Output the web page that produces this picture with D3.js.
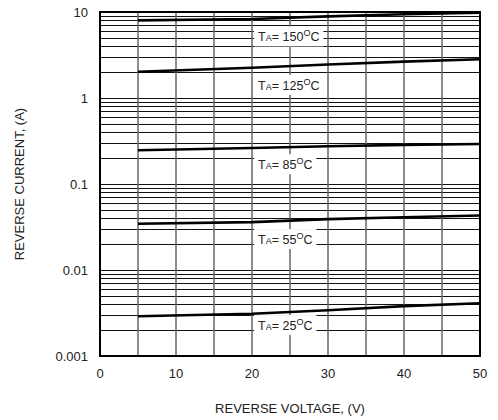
<!DOCTYPE html>
<html lang="en">
<head>
<meta charset="utf-8">
<title>Reverse Current vs Reverse Voltage</title>
<script src="https://cdn.jsdelivr.net/npm/d3@7"></script>
<style>
  body { margin: 0; background: #fff; }
  text { font-family: "Liberation Sans", Arial, sans-serif; fill: #222; }
</style>
</head>
<body>
<script>
// data
var voltages = [5, 20, 30, 40, 50];
var cur150 = [8.0, 8.3, 8.9, 9.4, 9.8];
var cur125 = [2.02, 2.25, 2.45, 2.65, 2.82];
var cur85 = [0.247, 0.262, 0.275, 0.285, 0.292];
var cur55 = [0.0345, 0.036, 0.039, 0.041, 0.043];
var cur25 = [0.0029, 0.0031, 0.0034, 0.0038, 0.0041];
var seriesNames = ["150", "125", "85", "55", "25"];
var labelCurrents = [5.2, 1.42, 0.17, 0.0229, 0.00229];
var xTicks = [0, 10, 20, 30, 40, 50];
var yTicks = [0.001, 0.01, 0.1, 1, 10];
var yTickLabels = ["0.001", "0.01", "0.1", "1", "10"];

var w = 498, h = 420;
var margin = { top: 12, right: 18, bottom: 64, left: 100 };

var svg = d3.select("body").append("svg")
  .attr("width", w).attr("height", h);

var x = d3.scaleLinear().domain([0, 50]).range([margin.left, w - margin.right]);
var y = d3.scaleLog().domain([0.001, 10]).range([h - margin.bottom, margin.top]);

// horizontal log grid
var minor = [];
for (var d = 0.001; d < 10; d *= 10) {
  for (var k = 1; k <= 9; k++) minor.push(+(d * k).toPrecision(3));
}
svg.append("g").selectAll("line").data(minor).enter().append("line")
  .attr("x1", x(0)).attr("x2", x(50))
  .attr("y1", function(v) { return Math.round(y(v)) + 0.5; })
  .attr("y2", function(v) { return Math.round(y(v)) + 0.5; })
  .attr("stroke", "#111").attr("stroke-width", 1);

// vertical grid every 5 V
svg.append("g").selectAll("line").data(d3.range(5, 50, 5)).enter().append("line")
  .attr("x1", function(v) { return x(v); }).attr("x2", function(v) { return x(v); })
  .attr("y1", y(10)).attr("y2", y(0.001))
  .attr("stroke", "#666").attr("stroke-width", 1.5);

// curves
var allSeries = [cur150, cur125, cur85, cur55, cur25];
var line = d3.line()
  .x(function(d, i) { return x(voltages[i]); })
  .y(function(d) { return y(d); });
svg.append("g").selectAll("path").data(allSeries).enter().append("path")
  .attr("d", line).attr("fill", "none")
  .attr("stroke", "#000").attr("stroke-width", 2.6);

// labels with white boxes
var lab = svg.append("g").selectAll("g").data(seriesNames).enter().append("g");
lab.each(function(name, i) {
  var g = d3.select(this);
  var t = g.append("text")
    .attr("x", x(20.8)).attr("y", y(labelCurrents[i]) + 5)
    .attr("font-size", 12.5);
  t.append("tspan").text("T");
  t.append("tspan").attr("font-size", 9).text("A");
  t.append("tspan").text("= " + name);
  t.append("tspan").attr("font-size", 9).attr("dy", -5).text("O");
  t.append("tspan").attr("dy", 5).text("C");
  var bb = t.node().getBBox();
  g.insert("rect", "text")
    .attr("x", bb.x - 4).attr("y", bb.y - 2)
    .attr("width", bb.width + 8).attr("height", bb.height + 4)
    .attr("fill", "#fff");
});

// frame
svg.append("rect")
  .attr("x", x(0)).attr("y", y(10))
  .attr("width", x(50) - x(0)).attr("height", y(0.001) - y(10))
  .attr("fill", "none").attr("stroke", "#000").attr("stroke-width", 2);

// tick labels
svg.append("g").selectAll("text").data(yTicks).enter().append("text")
  .attr("x", x(0) - 12).attr("y", function(v) { return y(v) + 5; })
  .attr("text-anchor", "end").attr("font-size", 13)
  .text(function(v, i) { return yTickLabels[i]; });

svg.append("g").selectAll("text").data(xTicks).enter().append("text")
  .attr("x", function(v) { return x(v); }).attr("y", y(0.001) + 22)
  .attr("text-anchor", "middle").attr("font-size", 13)
  .text(function(v) { return v; });

// axis titles
svg.append("text")
  .attr("x", (x(0) + x(50)) / 2).attr("y", 413)
  .attr("text-anchor", "middle").attr("font-size", 13)
  .text("REVERSE VOLTAGE, (V)");

svg.append("text")
  .attr("transform", "translate(24," + ((y(10) + y(0.001)) / 2) + ") rotate(-90)")
  .attr("text-anchor", "middle").attr("font-size", 13)
  .text("REVERSE CURRENT, (A)");
</script>
</body>
</html>
